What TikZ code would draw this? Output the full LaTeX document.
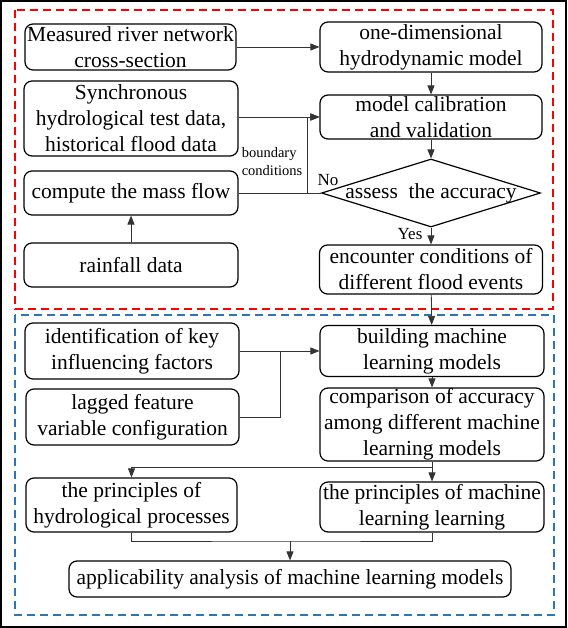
\documentclass[tikz,border=0pt]{standalone}
\usepackage{amssymb,amsfonts,amsmath}
\usepackage{fontspec}
\setmainfont{Liberation Serif}
\usepackage{tikz}
\usetikzlibrary{shapes,arrows,arrows.meta,positioning}
\definecolor{boxblue}{RGB}{46,117,182}

\begin{document}
\begin{tikzpicture}[x=1pt,y=-1pt,
	box/.style={draw, line width=1.2pt, rounded corners=8pt, align=center, inner sep=0pt, font=\fontsize{21.5}{26}\selectfont},
	link/.style={line width=0.8pt, draw=black!80},
	>={Triangle[length=9pt,width=7pt]}]
				\useasboundingbox (0,0) rectangle (567,628);
				\draw [line width=1.5pt] (1,1) rectangle (566,627);
				\draw [line width=1.5pt, red, dash pattern=on 8pt off 5pt] (15,10) rectangle (553,309);
				\draw [line width=1.5pt, boxblue, dash pattern=on 8pt off 5pt] (15,315) rectangle (554,615);

				\node[box, minimum width=211pt, minimum height=46pt] (meas) 	at (130.5,47) {Measured river network\\cross-section};
				\node[box, minimum width=222pt, minimum height=50pt] (onedim) 	at (431,47) {one-dimensional\\hydrodynamic model};
				\node[box, minimum width=214pt, minimum height=75pt] (sync) 	at (131,118.5) {Synchronous\\hydrological test data,\\historical flood data};
				\node[box, minimum width=222pt, minimum height=44pt] (calib) 	at (431,117) {model calibration\\and validation};
				\node[box, minimum width=214pt, minimum height=44pt] (mass) 	at (131,193) {compute the mass flow};
				\node[box, diamond, rounded corners=0pt, minimum width=219pt, minimum height=68pt] (assess) 	at (431,193) {\makebox[0pt]{assess\ \ the accuracy}};
				\node[box, minimum width=214pt, minimum height=44pt] (rain) 	at (131,265) {rainfall data};
				\node[box, minimum width=223pt, minimum height=49pt] (enc) 	at (431,269.5) {encounter conditions of\\different flood events};
				\node[align=left, font=\fontsize{14.5}{18}\selectfont] (bc) 	at (272,162) {boundary\\conditions};
				\node[font=\fontsize{17}{20}\selectfont] (no) 	at (328,180) {No};
				\node[font=\fontsize{17}{20}\selectfont] (yes) 	at (410,234) {Yes};

				\node[box, minimum width=214pt, minimum height=56pt] (ident) 	at (132,351) {identification of key\\influencing factors};
				\node[box, minimum width=224pt, minimum height=51pt] (build) 	at (432,351) {building machine\\learning models};
				\node[box, minimum width=213pt, minimum height=56pt] (lag) 	at (132.5,417) {lagged feature\\variable configuration};
				\node[box, minimum width=224pt, minimum height=73pt] (comp) 	at (432,424.5) {comparison of accuracy\\among different machine\\learning models};
				\node[box, minimum width=211pt, minimum height=54pt] (hydro) 	at (131.5,505) {the principles of\\hydrological processes};
				\node[box, minimum width=224pt, minimum height=50pt] (mlp) 	at (432,507) {the principles of machine\\learning learning};
				\node[box, minimum width=442pt, minimum height=36pt] (appl) 	at (290,579) {applicability analysis of machine learning models};

				\coordinate (jb) at (307,193);
				\coordinate (jl) at (280,351);
				\coordinate (jc) at (432,467);
				\coordinate (jh) at (290,541);

				\draw [link, ->] (meas) -- (onedim);
				\draw [link, ->] (onedim) -- (calib);
				\draw [link, ->] (sync.east |- calib.west) -- (calib.west);
				\draw [link] (mass) -- (assess);
				\draw [link, ->] (jb) |- (calib.west);
				\draw [link, ->] (rain) -- (mass);
				\draw [link, ->] (calib) -- (assess);
				\draw [link, ->] (assess) -- (enc);
				\draw [link, ->] (enc) -- (build);

				\draw [link, ->] (ident) -- (build);
				\draw [link] (lag.east) -| (jl);
				\draw [link, ->] (build) -- (comp);
				\draw [link] (comp.south) -- (jc);
				\draw [link, ->] (jc) -| (hydro.north);
				\draw [link, ->] (jc) -- (mlp.north);
				\draw [link] (hydro.south) |- (jh) -| (mlp.south);
				\draw [link, ->] (jh) -- (appl.north);

				\end{tikzpicture}
\end{document}
